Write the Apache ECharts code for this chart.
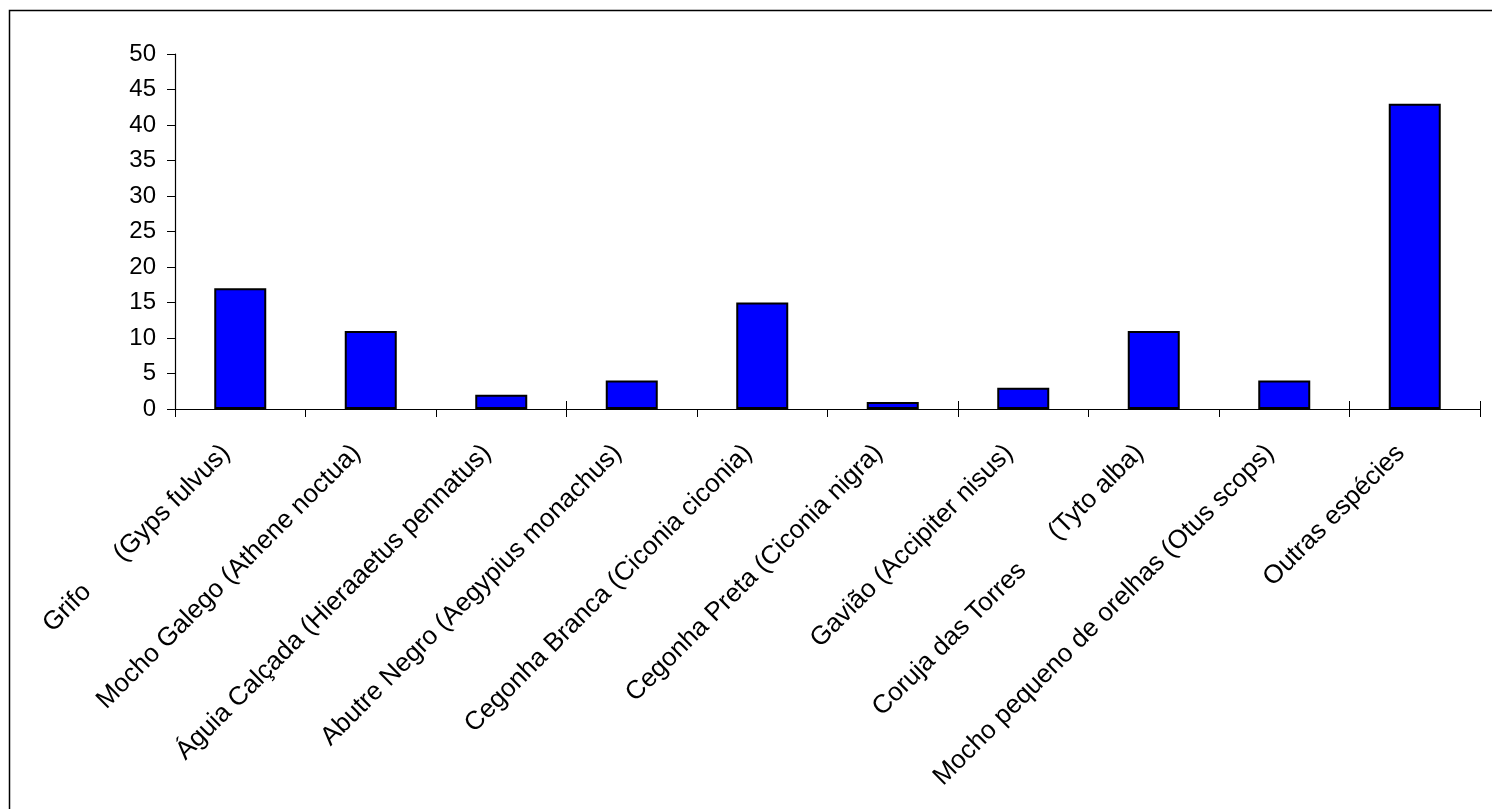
<!DOCTYPE html>
<html>
<head>
<meta charset="utf-8">
<script src="https://cdn.jsdelivr.net/npm/echarts@6/dist/echarts.min.js"></script>
<style>
html,body{margin:0;padding:0;background:#fff;}
#c{width:1492px;height:809px;}
</style>
</head>
<body>
<div id="c"></div>
<script>
var categories = [
  "Grifo      (Gyps fulvus)",
  "Mocho Galego (Athene noctua)",
  "Águia Calçada (Hieraaetus pennatus)",
  "Abutre Negro (Aegypius monachus)",
  "Cegonha Branca (Ciconia ciconia)",
  "Cegonha Preta (Ciconia nigra)",
  "Gavião (Accipiter nisus)",
  "Coruja das Torres      (Tyto alba)",
  "Mocho pequeno de orelhas (Otus scops)",
  "Outras espécies"
];
var values = [17, 11, 2, 4, 15, 1, 3, 11, 4, 43];
var yTicks = { min: 0, max: 50, interval: 5 };

var chart = echarts.init(document.getElementById('c'), null, {renderer: 'canvas'});
var font = 'Arial, "Liberation Sans", sans-serif';
chart.setOption({
  animation: false,
  backgroundColor: '#ffffff',
  graphic: [{
    type: 'rect',
    shape: {x: 9.5, y: 10.5, width: 1600, height: 900},
    style: {fill: null, stroke: '#000', lineWidth: 1.5},
    silent: true
  }],
  grid: {left: 175, right: 12, top: 54, bottom: 400, containLabel: false},
  xAxis: [{
    type: 'category',
    data: categories,
    axisLine: {show: true, lineStyle: {color: '#000', width: 1.2}},
    axisTick: {show: true, length: 8, lineStyle: {color: '#000'}},
    axisLabel: {
      interval: 0, rotate: 45, margin: 26,
      padding: [0, 20, 0, 0],
      color: '#000', fontSize: 26, fontFamily: font
    },
    splitLine: {show: false}
  }, {
    type: 'category',
    data: categories,
    position: 'bottom',
    axisLine: {show: false},
    axisTick: {show: true, inside: true, length: 8, lineStyle: {color: '#000'}},
    axisLabel: {show: false},
    splitLine: {show: false}
  }],
  yAxis: {
    type: 'value',
    min: yTicks.min, max: yTicks.max, interval: yTicks.interval,
    axisLine: {show: true, lineStyle: {color: '#000', width: 1.2}},
    axisTick: {show: true, length: 8, lineStyle: {color: '#000'}},
    axisLabel: {color: '#000', fontSize: 24, fontFamily: font, margin: 19},
    splitLine: {show: false}
  },
  series: [{
    type: 'bar',
    data: values,
    barWidth: 52,
    itemStyle: {color: '#0000ff', borderColor: '#000', borderWidth: 2}
  }]
});
</script>
</body>
</html>
